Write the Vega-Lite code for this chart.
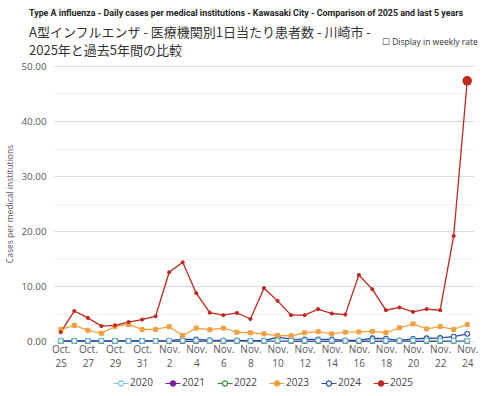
{
  "$schema": "https://vega.github.io/schema/vega-lite/v6.json",
  "width": 420,
  "height": 275,
  "padding": {"left": 5, "top": 9, "right": 5, "bottom": 2},
  "background": "white",
  "title": {
    "text": "Type A influenza - Daily cases per medical institutions - Kawasaki City - Comparison of 2025 and last 5 years",
    "subtitle": ["A型インフルエンザ - 医療機関別1日当たり患者数 - 川崎市 -", "2025年と過去5年間の比較"],
    "anchor": "start",
    "frame": "group",
    "dx": -25,
    "font": "Roboto",
    "fontSize": 8.9,
    "fontWeight": "bold",
    "color": "#222",
    "subtitleFont": "Noto Sans CJK JP",
    "subtitleFontSize": 13,
    "subtitleColor": "#333",
    "subtitleLineHeight": 17.5,
    "subtitlePadding": 9,
    "offset": -20
  },
  "datasets": {
    "series": [
      {"date": "Oct. 25", "year": "2022", "value": 0}, {"date": "Oct. 26", "year": "2022", "value": 0}, {"date": "Oct. 27", "year": "2022", "value": 0}, {"date": "Oct. 28", "year": "2022", "value": 0}, {"date": "Oct. 29", "year": "2022", "value": 0}, {"date": "Oct. 30", "year": "2022", "value": 0}, {"date": "Oct. 31", "year": "2022", "value": 0}, {"date": "Nov. 1", "year": "2022", "value": 0}, {"date": "Nov. 2", "year": "2022", "value": 0}, {"date": "Nov. 3", "year": "2022", "value": 0}, {"date": "Nov. 4", "year": "2022", "value": 0}, {"date": "Nov. 5", "year": "2022", "value": 0}, {"date": "Nov. 6", "year": "2022", "value": 0}, {"date": "Nov. 7", "year": "2022", "value": 0}, {"date": "Nov. 8", "year": "2022", "value": 0}, {"date": "Nov. 9", "year": "2022", "value": 0}, {"date": "Nov. 10", "year": "2022", "value": 0}, {"date": "Nov. 11", "year": "2022", "value": 0}, {"date": "Nov. 12", "year": "2022", "value": 0}, {"date": "Nov. 13", "year": "2022", "value": 0}, {"date": "Nov. 14", "year": "2022", "value": 0}, {"date": "Nov. 15", "year": "2022", "value": 0}, {"date": "Nov. 16", "year": "2022", "value": 0}, {"date": "Nov. 17", "year": "2022", "value": 0}, {"date": "Nov. 18", "year": "2022", "value": 0}, {"date": "Nov. 19", "year": "2022", "value": 0}, {"date": "Nov. 20", "year": "2022", "value": 0}, {"date": "Nov. 21", "year": "2022", "value": 0}, {"date": "Nov. 22", "year": "2022", "value": 0}, {"date": "Nov. 23", "year": "2022", "value": 0}, {"date": "Nov. 24", "year": "2022", "value": 0},
      {"date": "Oct. 25", "year": "2021", "value": 0}, {"date": "Oct. 26", "year": "2021", "value": 0}, {"date": "Oct. 27", "year": "2021", "value": 0}, {"date": "Oct. 28", "year": "2021", "value": 0}, {"date": "Oct. 29", "year": "2021", "value": 0}, {"date": "Oct. 30", "year": "2021", "value": 0}, {"date": "Oct. 31", "year": "2021", "value": 0}, {"date": "Nov. 1", "year": "2021", "value": 0}, {"date": "Nov. 2", "year": "2021", "value": 0}, {"date": "Nov. 3", "year": "2021", "value": 0}, {"date": "Nov. 4", "year": "2021", "value": 0}, {"date": "Nov. 5", "year": "2021", "value": 0}, {"date": "Nov. 6", "year": "2021", "value": 0}, {"date": "Nov. 7", "year": "2021", "value": 0}, {"date": "Nov. 8", "year": "2021", "value": 0}, {"date": "Nov. 9", "year": "2021", "value": 0}, {"date": "Nov. 10", "year": "2021", "value": 0}, {"date": "Nov. 11", "year": "2021", "value": 0}, {"date": "Nov. 12", "year": "2021", "value": 0}, {"date": "Nov. 13", "year": "2021", "value": 0}, {"date": "Nov. 14", "year": "2021", "value": 0}, {"date": "Nov. 15", "year": "2021", "value": 0}, {"date": "Nov. 16", "year": "2021", "value": 0}, {"date": "Nov. 17", "year": "2021", "value": 0}, {"date": "Nov. 18", "year": "2021", "value": 0}, {"date": "Nov. 19", "year": "2021", "value": 0}, {"date": "Nov. 20", "year": "2021", "value": 0}, {"date": "Nov. 21", "year": "2021", "value": 0}, {"date": "Nov. 22", "year": "2021", "value": 0}, {"date": "Nov. 23", "year": "2021", "value": 0}, {"date": "Nov. 24", "year": "2021", "value": 0},
      {"date": "Oct. 25", "year": "2020", "value": 0.02}, {"date": "Oct. 26", "year": "2020", "value": 0.02}, {"date": "Oct. 27", "year": "2020", "value": 0.05}, {"date": "Oct. 28", "year": "2020", "value": 0.05}, {"date": "Oct. 29", "year": "2020", "value": 0.02}, {"date": "Oct. 30", "year": "2020", "value": 0.02}, {"date": "Oct. 31", "year": "2020", "value": 0.02}, {"date": "Nov. 1", "year": "2020", "value": 0.02}, {"date": "Nov. 2", "year": "2020", "value": 0.05}, {"date": "Nov. 3", "year": "2020", "value": 0.1}, {"date": "Nov. 4", "year": "2020", "value": 0.1}, {"date": "Nov. 5", "year": "2020", "value": 0.05}, {"date": "Nov. 6", "year": "2020", "value": 0.05}, {"date": "Nov. 7", "year": "2020", "value": 0.05}, {"date": "Nov. 8", "year": "2020", "value": 0.05}, {"date": "Nov. 9", "year": "2020", "value": 0.05}, {"date": "Nov. 10", "year": "2020", "value": 0.05}, {"date": "Nov. 11", "year": "2020", "value": 0.1}, {"date": "Nov. 12", "year": "2020", "value": 0.1}, {"date": "Nov. 13", "year": "2020", "value": 0.1}, {"date": "Nov. 14", "year": "2020", "value": 0.1}, {"date": "Nov. 15", "year": "2020", "value": 0.05}, {"date": "Nov. 16", "year": "2020", "value": 0.1}, {"date": "Nov. 17", "year": "2020", "value": 0.1}, {"date": "Nov. 18", "year": "2020", "value": 0.1}, {"date": "Nov. 19", "year": "2020", "value": 0.05}, {"date": "Nov. 20", "year": "2020", "value": 0.1}, {"date": "Nov. 21", "year": "2020", "value": 0.1}, {"date": "Nov. 22", "year": "2020", "value": 0.1}, {"date": "Nov. 23", "year": "2020", "value": 0.05}, {"date": "Nov. 24", "year": "2020", "value": 0.05},
      {"date": "Oct. 25", "year": "2024", "value": 0.02}, {"date": "Oct. 26", "year": "2024", "value": 0.02}, {"date": "Oct. 27", "year": "2024", "value": 0.02}, {"date": "Oct. 28", "year": "2024", "value": 0.02}, {"date": "Oct. 29", "year": "2024", "value": 0.02}, {"date": "Oct. 30", "year": "2024", "value": 0.02}, {"date": "Oct. 31", "year": "2024", "value": 0.02}, {"date": "Nov. 1", "year": "2024", "value": 0.02}, {"date": "Nov. 2", "year": "2024", "value": 0.05}, {"date": "Nov. 3", "year": "2024", "value": 0.3}, {"date": "Nov. 4", "year": "2024", "value": 0.3}, {"date": "Nov. 5", "year": "2024", "value": 0.15}, {"date": "Nov. 6", "year": "2024", "value": 0.1}, {"date": "Nov. 7", "year": "2024", "value": 0.1}, {"date": "Nov. 8", "year": "2024", "value": 0.05}, {"date": "Nov. 9", "year": "2024", "value": 0.05}, {"date": "Nov. 10", "year": "2024", "value": 0.7}, {"date": "Nov. 11", "year": "2024", "value": 0.35}, {"date": "Nov. 12", "year": "2024", "value": 0.3}, {"date": "Nov. 13", "year": "2024", "value": 0.3}, {"date": "Nov. 14", "year": "2024", "value": 0.3}, {"date": "Nov. 15", "year": "2024", "value": 0.1}, {"date": "Nov. 16", "year": "2024", "value": 0.1}, {"date": "Nov. 17", "year": "2024", "value": 0.5}, {"date": "Nov. 18", "year": "2024", "value": 0.45}, {"date": "Nov. 19", "year": "2024", "value": 0.1}, {"date": "Nov. 20", "year": "2024", "value": 0.4}, {"date": "Nov. 21", "year": "2024", "value": 0.5}, {"date": "Nov. 22", "year": "2024", "value": 0.55}, {"date": "Nov. 23", "year": "2024", "value": 0.8}, {"date": "Nov. 24", "year": "2024", "value": 1.3},
      {"date": "Oct. 25", "year": "2023", "value": 2.1}, {"date": "Oct. 26", "year": "2023", "value": 2.85}, {"date": "Oct. 27", "year": "2023", "value": 1.95}, {"date": "Oct. 28", "year": "2023", "value": 1.4}, {"date": "Oct. 29", "year": "2023", "value": 2.65}, {"date": "Oct. 30", "year": "2023", "value": 3.0}, {"date": "Oct. 31", "year": "2023", "value": 2.1}, {"date": "Nov. 1", "year": "2023", "value": 2.1}, {"date": "Nov. 2", "year": "2023", "value": 2.6}, {"date": "Nov. 3", "year": "2023", "value": 1.0}, {"date": "Nov. 4", "year": "2023", "value": 2.35}, {"date": "Nov. 5", "year": "2023", "value": 2.05}, {"date": "Nov. 6", "year": "2023", "value": 2.35}, {"date": "Nov. 7", "year": "2023", "value": 1.6}, {"date": "Nov. 8", "year": "2023", "value": 1.5}, {"date": "Nov. 9", "year": "2023", "value": 1.3}, {"date": "Nov. 10", "year": "2023", "value": 1.0}, {"date": "Nov. 11", "year": "2023", "value": 0.95}, {"date": "Nov. 12", "year": "2023", "value": 1.5}, {"date": "Nov. 13", "year": "2023", "value": 1.7}, {"date": "Nov. 14", "year": "2023", "value": 1.3}, {"date": "Nov. 15", "year": "2023", "value": 1.6}, {"date": "Nov. 16", "year": "2023", "value": 1.65}, {"date": "Nov. 17", "year": "2023", "value": 1.75}, {"date": "Nov. 18", "year": "2023", "value": 1.5}, {"date": "Nov. 19", "year": "2023", "value": 2.4}, {"date": "Nov. 20", "year": "2023", "value": 3.1}, {"date": "Nov. 21", "year": "2023", "value": 2.2}, {"date": "Nov. 22", "year": "2023", "value": 2.6}, {"date": "Nov. 23", "year": "2023", "value": 2.1}, {"date": "Nov. 24", "year": "2023", "value": 3.0},
      {"date": "Oct. 25", "year": "2025", "value": 1.6}, {"date": "Oct. 26", "year": "2025", "value": 5.45}, {"date": "Oct. 27", "year": "2025", "value": 4.2}, {"date": "Oct. 28", "year": "2025", "value": 2.7}, {"date": "Oct. 29", "year": "2025", "value": 2.85}, {"date": "Oct. 30", "year": "2025", "value": 3.45}, {"date": "Oct. 31", "year": "2025", "value": 3.9}, {"date": "Nov. 1", "year": "2025", "value": 4.5}, {"date": "Nov. 2", "year": "2025", "value": 12.5}, {"date": "Nov. 3", "year": "2025", "value": 14.3}, {"date": "Nov. 4", "year": "2025", "value": 8.7}, {"date": "Nov. 5", "year": "2025", "value": 5.15}, {"date": "Nov. 6", "year": "2025", "value": 4.7}, {"date": "Nov. 7", "year": "2025", "value": 5.1}, {"date": "Nov. 8", "year": "2025", "value": 4.0}, {"date": "Nov. 9", "year": "2025", "value": 9.6}, {"date": "Nov. 10", "year": "2025", "value": 7.3}, {"date": "Nov. 11", "year": "2025", "value": 4.7}, {"date": "Nov. 12", "year": "2025", "value": 4.7}, {"date": "Nov. 13", "year": "2025", "value": 5.8}, {"date": "Nov. 14", "year": "2025", "value": 5.0}, {"date": "Nov. 15", "year": "2025", "value": 4.8}, {"date": "Nov. 16", "year": "2025", "value": 12.0}, {"date": "Nov. 17", "year": "2025", "value": 9.4}, {"date": "Nov. 18", "year": "2025", "value": 5.6}, {"date": "Nov. 19", "year": "2025", "value": 6.1}, {"date": "Nov. 20", "year": "2025", "value": 5.3}, {"date": "Nov. 21", "year": "2025", "value": 5.8}, {"date": "Nov. 22", "year": "2025", "value": 5.6}, {"date": "Nov. 23", "year": "2025", "value": 19.1}, {"date": "Nov. 24", "year": "2025", "value": 47.3}
    ],
    "note": [{"date": "Nov. 18", "value": 54.4, "label": "☐ Display in weekly rate"}]
  },
  "data": {"name": "series"},
  "encoding": {
    "x": {
      "field": "date",
      "type": "ordinal",
      "sort": null,
      "scale": {"type": "point", "padding": 0.5},
      "axis": {
        "title": null,
        "values": ["Oct. 25", "Oct. 27", "Oct. 29", "Oct. 31", "Nov. 2", "Nov. 4", "Nov. 6", "Nov. 8", "Nov. 10", "Nov. 12", "Nov. 14", "Nov. 16", "Nov. 18", "Nov. 20", "Nov. 22", "Nov. 24"],
        "labelExpr": "split(datum.label, ' ')",
        "labelAngle": 0,
        "labelAlign": "center",
        "labelFont": "Open Sans",
        "labelFontSize": 10,
        "labelColor": "#555",
        "labelLineHeight": 14,
        "labelPadding": 3,
        "ticks": false,
        "domain": false,
        "grid": false
      }
    },
    "y": {
      "field": "value",
      "type": "quantitative",
      "scale": {"domain": [0, 50], "nice": false},
      "axis": {
        "title": "Cases per medical institutions",
        "titleFont": "Open Sans",
        "titleFontSize": 8.5,
        "titleFontWeight": "normal",
        "titleColor": "#555",
        "titlePadding": 7,
        "values": [0, 5, 10, 15, 20, 25, 30, 35, 40, 45, 50],
        "labelExpr": "datum.value % 10 === 0 ? format(datum.value, '.2f') : ''",
        "labelFont": "Open Sans",
        "labelFontSize": 9.8,
        "labelColor": "#555",
        "labelPadding": 8,
        "ticks": false,
        "domain": false,
        "gridColor": {"condition": {"test": "datum.value % 10 === 0", "value": "#dcdcdc"}, "value": "#f0f0f0"},
        "gridWidth": 1
      }
    }
  },
  "layer": [
    {
      "mark": {"type": "line", "strokeWidth": 1.3},
      "encoding": {
        "stroke": {
          "field": "year",
          "type": "nominal",
          "scale": {"domain": ["2020", "2021", "2022", "2023", "2024", "2025"], "range": ["#7cc0dd", "#7b1fa2", "#2e8b3a", "#f0a040", "#2a4aa0", "#c0281e"]},
          "legend": {
            "title": null,
            "orient": "none",
            "legendX": 62,
            "legendY": 312,
            "direction": "horizontal",
            "symbolType": "M-2,0H-0.7M0.7,0H2M-0.7,0A0.7,0.7 0 1,0 0.7,0A0.7,0.7 0 1,0 -0.7,0",
            "symbolSize": 56,
            "symbolStrokeWidth": 1.2,
            "labelFont": "Open Sans",
            "labelFontSize": 10,
            "labelColor": "#444",
            "labelOffset": 4,
            "columnPadding": 10
          }
        }
      }
    },
    {
      "mark": {"type": "point", "filled": false, "strokeWidth": 1.1, "opacity": 1, "shape": "circle", "size": 22},
      "transform": [{"filter": "datum.year === '2024'"}],
      "encoding": {
        "stroke": {"field": "year", "type": "nominal"},
        "fill": {
          "field": "year",
          "type": "nominal",
          "scale": {"domain": ["2020", "2021", "2022", "2023", "2024", "2025"], "range": ["#ffffff", "#7b1fa2", "#ffffff", "#f0a040", "#ffffff", "#c0281e"]}
        }
      }
    },
    {
      "mark": {"type": "point", "filled": false, "strokeWidth": 1.1, "opacity": 1, "shape": "square", "size": 20, "fill": "white"},
      "transform": [{"filter": "datum.year === '2022'"}],
      "encoding": {"stroke": {"field": "year", "type": "nominal"}}
    },
    {
      "mark": {"type": "point", "filled": false, "strokeWidth": 1.1, "opacity": 1, "shape": "diamond", "size": 18, "fill": "#7b1fa2"},
      "transform": [{"filter": "datum.year === '2021'"}],
      "encoding": {"stroke": {"field": "year", "type": "nominal"}}
    },
    {
      "mark": {"type": "point", "filled": false, "strokeWidth": 1.1, "opacity": 1, "shape": "circle", "size": 22, "fill": "white"},
      "transform": [{"filter": "datum.year === '2020'"}],
      "encoding": {"stroke": {"field": "year", "type": "nominal"}}
    },
    {
      "mark": {"type": "point", "filled": false, "strokeWidth": 1, "opacity": 1, "shape": "square", "size": 16, "fill": "#f0a040"},
      "transform": [{"filter": "datum.year === '2023'"}],
      "encoding": {"stroke": {"field": "year", "type": "nominal"}}
    },
    {
      "mark": {"type": "point", "filled": false, "strokeWidth": 1, "opacity": 1, "shape": "circle", "size": 10, "fill": "#c0281e"},
      "transform": [{"filter": "datum.year === '2025' && datum.date !== 'Nov. 24'"}],
      "encoding": {"stroke": {"field": "year", "type": "nominal"}}
    },
    {
      "mark": {"type": "circle", "size": 90, "color": "#c0281e", "opacity": 1},
      "transform": [{"filter": "datum.date === 'Nov. 24' && datum.year === '2025'"}],
      "encoding": {}
    },
    {
      "data": {"name": "note"},
      "mark": {"type": "text", "align": "left", "baseline": "middle", "dx": -4, "font": "Open Sans", "fontSize": 8.5, "color": "#333"},
      "encoding": {"text": {"field": "label"}}
    }
  ],
  "config": {"view": {"stroke": null}}
}
